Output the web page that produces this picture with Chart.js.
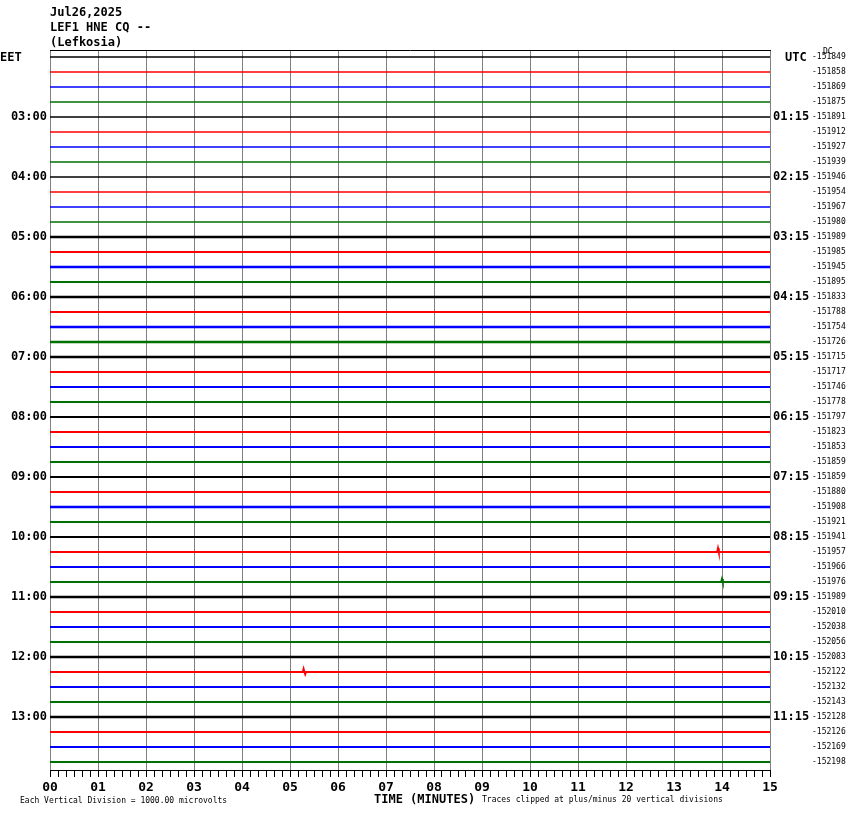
<!DOCTYPE html>
<html>
<head>
<meta charset="utf-8">
<script src="https://cdn.jsdelivr.net/npm/chart.js@4.4.1/dist/chart.umd.min.js"></script>
<style>
  body { margin: 0; background: #fff; }
  #wrap { position: relative; width: 850px; height: 814px; }
  #heli { position: absolute; left: 0; top: 0; }
  .txt { position: absolute; font-family: "DejaVu Sans Mono", monospace; color: #000; white-space: pre; }
  .hdr { font-size: 12px; font-weight: bold; line-height: 12px; left: 50px; }
  .big { font-size: 12px; font-weight: bold; line-height: 12px; }
  .small { font-size: 8px; line-height: 8px; }
</style>
</head>
<body>
<div id="wrap">
  <canvas id="heli" width="850" height="814"></canvas>
  <div class="txt hdr" style="top:6px">Jul26,2025</div>
  <div class="txt hdr" style="top:21px">LEF1 HNE CQ --</div>
  <div class="txt hdr" style="top:36px">(Lefkosia)</div>
  <div class="txt big" style="left:0px;top:51px">EET</div>
  <div class="txt big" style="left:785px;top:51px">UTC</div>
  <div class="txt small" style="left:823px;top:48px">DC</div>
  <div class="txt small" style="left:20px;top:797px">Each Vertical Division = 1000.00 microvolts</div>
  <div class="txt hdr" style="left:374px;top:793px">TIME (MINUTES)</div>
  <div class="txt small" style="left:482px;top:796px">Traces clipped at plus/minus 20 vertical divisions</div>
</div>
<script>
// one trace per 15 minutes, 4 per hour, colours cycle
var traceColors = ['#000000', '#ff0000', '#0000ff', '#007000']
var eetHours = ['03:00', '04:00', '05:00', '06:00', '07:00', '08:00', '09:00', '10:00', '11:00', '12:00', '13:00']
var utcHours = ['01:15', '02:15', '03:15', '04:15', '05:15', '06:15', '07:15', '08:15', '09:15', '10:15', '11:15']
var dcOffsets = [
  -151849, -151858, -151869, -151875, -151891, -151912, -151927, -151939,
  -151946, -151954, -151967, -151980, -151989, -151985, -151945, -151895,
  -151833, -151788, -151754, -151726, -151715, -151717, -151746, -151778,
  -151797, -151823, -151853, -151859, -151859, -151880, -151908, -151921,
  -151941, -151957, -151966, -151976, -151989, -152010, -152038, -152056,
  -152083, -152122, -152132, -152143, -152128, -152126, -152169, -152198
]
// how noisy each trace looks (drawn as line thickness)
var traceNoise = [
  1.5, 1.5, 1.5, 1.5, 1.5, 1.5, 1.5, 1.5,
  1.5, 1.5, 1.5, 1.5, 2.5, 2, 2.5, 2,
  2.5, 2, 2.5, 2.5, 2.5, 2, 2, 2,
  2, 2, 2, 2, 2, 2, 2.5, 2,
  2, 2, 2, 2, 2.5, 2, 2, 2,
  2.5, 2, 2, 2, 2.5, 2, 2, 2
]
// the few visible events: trace number, second in the trace, size in trace spacings
var spikeTrace = [33, 35, 41, 41]
var spikeSec = [835, 840, 317, 319]
var spikeAmp = [0.25, 0.2, 0.2, -0.15]

var minuteLabels = ['00', '01', '02', '03', '04', '05', '06', '07', '08', '09', '10', '11', '12', '13', '14', '15']

var datasets = []
for (let i = 0; i < dcOffsets.length; i++) {
    let pts = [{x: 0, y: -i}]
    for (let k = 0; k < spikeTrace.length; k++) {
        if (spikeTrace[k] == i) {
            pts.push({x: spikeSec[k] - 1, y: -i})
            pts.push({x: spikeSec[k], y: -i + spikeAmp[k]})
            pts.push({x: spikeSec[k] + 1, y: -i})
        }
    }
    pts.push({x: 900, y: -i})
    datasets.push({
        data: pts,
        borderColor: traceColors[i % 4],
        borderWidth: traceNoise[i],
        pointRadius: 0,
        fill: false,
        tension: 0
    })
}

var traceTicks = function (scale) {
    scale.ticks = dcOffsets.map((v, i) => ({value: -i}))
}
var boldFont = {family: 'DejaVu Sans Mono', size: 12, weight: 'bold'}

var configHeli = {
    type: 'line',
    data: {datasets: datasets},
    options: {
        responsive: false,
        animation: false,
        events: [],
        layout: {padding: {top: 50, bottom: 14, left: 0, right: 0}},
        plugins: {legend: {display: false}, tooltip: {enabled: false}},
        scales: {
            x: {
                type: 'linear',
                min: 0,
                max: 900,
                afterBuildTicks: function (scale) {
                    let t = []
                    for (let s = 0; s <= 900; s += 10) t.push({value: s})
                    scale.ticks = t
                },
                afterFit: function (scale) { scale.height = 30 },
                border: {display: true, color: '#000000', width: 1},
                grid: {
                    color: ctx => (ctx.tick && ctx.tick.value % 60 == 0) ? '#808080' : 'rgba(0,0,0,0)',
                    tickColor: '#000000',
                    tickLength: 7,
                    lineWidth: 1
                },
                ticks: {
                    autoSkip: false,
                    maxRotation: 0,
                    padding: 3,
                    color: '#000000',
                    font: {family: 'DejaVu Sans Mono', size: 13, weight: 'bold'},
                    callback: v => v % 60 == 0 ? minuteLabels[v / 60] : ''
                }
            },
            xTop: {
                type: 'linear',
                position: 'top',
                min: 0,
                max: 900,
                afterFit: function (scale) { scale.height = 0 },
                border: {display: true, color: '#000000', width: 1},
                grid: {display: false, drawTicks: false},
                ticks: {display: false}
            },
            y: {
                type: 'linear',
                position: 'left',
                min: 7 / 15 - 48,
                max: 7 / 15,
                afterBuildTicks: traceTicks,
                afterFit: function (scale) { scale.width = 50 },
                border: {display: false},
                grid: {display: false, drawTicks: false},
                ticks: {
                    autoSkip: false,
                    padding: 3,
                    color: '#000000',
                    font: boldFont,
                    callback: (v, i) => (i > 0 && i % 4 == 0) ? eetHours[i / 4 - 1] : ''
                }
            },
            yUtc: {
                type: 'linear',
                position: 'right',
                weight: 0,
                min: 7 / 15 - 48,
                max: 7 / 15,
                afterBuildTicks: traceTicks,
                afterFit: function (scale) { scale.width = 40 },
                border: {display: false},
                grid: {display: false, drawTicks: false},
                ticks: {
                    autoSkip: false,
                    padding: 3,
                    color: '#000000',
                    font: boldFont,
                    callback: (v, i) => (i > 0 && i % 4 == 0) ? utcHours[i / 4 - 1] : ''
                }
            },
            yDc: {
                type: 'linear',
                position: 'right',
                weight: 1,
                min: 7 / 15 - 48,
                max: 7 / 15,
                afterBuildTicks: traceTicks,
                afterFit: function (scale) { scale.width = 40 },
                border: {display: false},
                grid: {display: false, drawTicks: false},
                ticks: {
                    autoSkip: false,
                    padding: 2,
                    color: '#000000',
                    font: {family: 'DejaVu Sans Mono', size: 8},
                    callback: (v, i) => String(dcOffsets[i])
                }
            }
        }
    }
}

var grafico = new Chart(document.getElementById('heli'), configHeli)
</script>
</body>
</html>
